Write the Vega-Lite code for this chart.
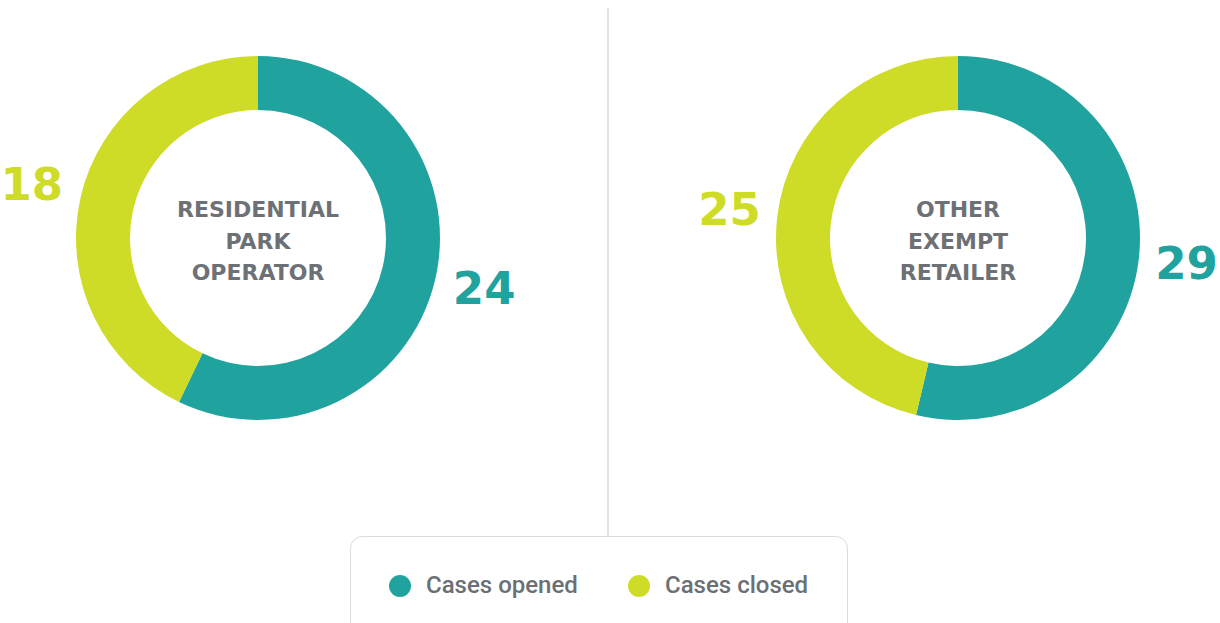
{
  "$schema": "https://vega.github.io/schema/vega-lite/v6.json",
  "padding": 0,
  "autosize": {"type": "pad"},
  "bounds": "flush",
  "background": "white",
  "spacing": 180,
  "config": {"view": {"stroke": null}},
  "data": {
    "values": [
      {"chart": "RESIDENTIAL PARK OPERATOR", "status": "Cases opened", "value": 24},
      {"chart": "RESIDENTIAL PARK OPERATOR", "status": "Cases closed", "value": 18},
      {"chart": "OTHER EXEMPT RETAILER", "status": "Cases opened", "value": 29},
      {"chart": "OTHER EXEMPT RETAILER", "status": "Cases closed", "value": 25}
    ]
  },
  "resolve": {"scale": {"color": "shared"}},
  "hconcat": [
    {
      "width": 514,
      "height": 476,
      "transform": [{"filter": "datum.chart === 'RESIDENTIAL PARK OPERATOR'"}],
      "layer": [
        {
          "transform": [{"filter": "datum.status === 'Cases opened'"}],
          "mark": {"type": "rule", "color": "#e3e3e3", "strokeWidth": 2},
          "encoding": {
            "x": {"value": 607},
            "y": {"value": 8},
            "y2": {"value": 538}
          }
        },
        {
          "mark": {"type": "arc", "radius": 182, "radius2": 128},
          "encoding": {
            "theta": {"field": "value", "type": "quantitative", "stack": true},
            "order": {"field": "status", "sort": "descending"},
            "color": {
              "field": "status", "type": "nominal",
              "scale": {"domain": ["Cases opened", "Cases closed"], "range": ["#20a39e", "#cedc28"]},
              "legend": {
                "orient": "none", "legendX": 349, "legendY": 536, "direction": "horizontal",
                "title": null, "symbolType": "circle", "symbolSize": 484, "symbolStrokeWidth": 0,
                "symbolOpacity": 1,
                "labelFont": "Roboto", "labelFontSize": 24, "labelFontWeight": 500, "labelColor": "#6b7075",
                "labelOffset": 14, "columnPadding": 49, "padding": 38,
                "strokeColor": "#dcdcdc", "cornerRadius": 12, "fillColor": "white"
              }
            }
          }
        },
        {
          "mark": {"type": "text", "radius": 232, "font": "DejaVu Sans", "fontSize": 45, "fontWeight": "bold", "align": "center", "baseline": "middle"},
          "encoding": {
            "theta": {"field": "value", "type": "quantitative", "stack": true},
            "order": {"field": "status", "sort": "descending"},
            "text": {"field": "value", "type": "quantitative"},
            "color": {"field": "status", "type": "nominal", "legend": null}
          }
        },
        {
          "transform": [{"filter": "datum.status === 'Cases opened'"}],
          "mark": {"type": "text", "lineBreak": " ", "lineHeight": 31.5, "dy": -28, "font": "DejaVu Sans", "fontSize": 22, "fontWeight": "bold", "color": "#6d7176", "align": "center", "baseline": "middle"},
          "encoding": {"text": {"field": "chart", "type": "nominal"}}
        }
      ]
    },
    {
      "width": 526,
      "height": 476,
      "transform": [{"filter": "datum.chart === 'OTHER EXEMPT RETAILER'"}],
      "layer": [
        {
          "mark": {"type": "arc", "radius": 182, "radius2": 128},
          "encoding": {
            "theta": {"field": "value", "type": "quantitative", "stack": true},
            "order": {"field": "status", "sort": "descending"},
            "color": {"field": "status", "type": "nominal"}
          }
        },
        {
          "mark": {"type": "text", "radius": 230, "font": "DejaVu Sans", "fontSize": 45, "fontWeight": "bold", "align": "center", "baseline": "middle"},
          "encoding": {
            "theta": {"field": "value", "type": "quantitative", "stack": true},
            "order": {"field": "status", "sort": "descending"},
            "text": {"field": "value", "type": "quantitative"},
            "color": {"field": "status", "type": "nominal", "legend": null}
          }
        },
        {
          "transform": [{"filter": "datum.status === 'Cases opened'"}],
          "mark": {"type": "text", "lineBreak": " ", "lineHeight": 31.5, "dy": -28, "font": "DejaVu Sans", "fontSize": 22, "fontWeight": "bold", "color": "#6d7176", "align": "center", "baseline": "middle"},
          "encoding": {"text": {"field": "chart", "type": "nominal"}}
        }
      ]
    }
  ]
}
